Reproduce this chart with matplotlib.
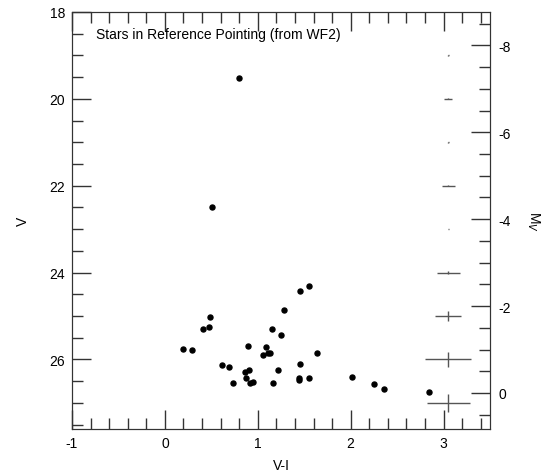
import matplotlib
matplotlib.use('Agg')
import matplotlib.pyplot as plt
from matplotlib.ticker import MultipleLocator

plt.rcParams['font.family'] = ['Liberation Sans', 'DejaVu Sans']
plt.rcParams['axes.unicode_minus'] = False

# star photometry (V-I colour, V magnitude)
vi = [0.19, 0.29, 0.41, 0.47, 0.49, 0.62, 0.69, 0.73, 0.86, 0.91, 0.87, 0.92,
      0.95, 0.90, 1.06, 1.09, 1.11, 1.13, 1.15, 1.16, 1.22, 1.25, 1.28, 1.45,
      1.55, 1.45, 1.44, 1.44, 1.55, 1.64, 2.01, 2.25, 2.36, 2.84, 0.80, 0.51]
vmag = [25.75, 25.79, 25.30, 25.26, 25.02, 26.13, 26.17, 26.55, 26.28, 26.25,
        26.42, 26.54, 26.52, 25.69, 25.90, 25.72, 25.85, 25.86, 25.29, 26.55,
        26.25, 25.43, 24.86, 24.42, 24.31, 26.11, 26.43, 26.47, 26.42, 25.84,
        26.41, 26.57, 26.67, 26.75, 19.52, 22.48]

# typical errors per magnitude
err_v = [19, 20, 21, 22, 23, 24, 25, 26, 27]
err_x = [0.005, 0.042, 0.005, 0.072, 0.005, 0.125, 0.143, 0.25, 0.23]
err_y = [0.005, 0.01, 0.005, 0.01, 0.005, 0.04, 0.115, 0.18, 0.21]
err_col = 3.05

dist_mod = 26.77

fig = plt.figure(figsize=(5.5, 4.77), dpi=100)
ax = fig.add_axes([72/550, 47/477, 418/550, 417/477])

ax.plot(vi, vmag, linestyle='none', marker='o', ms=3.6, color='black', mec='black')
ax.errorbar([err_col]*len(err_v), err_v, xerr=err_x, yerr=err_y, fmt='none',
            ecolor='#555555', elinewidth=1, capsize=0)

ax.set_xlim(-1, 3.5)
ax.set_ylim(27.6, 18)
ax.xaxis.set_major_locator(MultipleLocator(1))
ax.xaxis.set_minor_locator(MultipleLocator(0.2))
ax.yaxis.set_major_locator(MultipleLocator(2))
ax.yaxis.set_minor_locator(MultipleLocator(0.5))
ax.tick_params(which='both', direction='in', top=True, right=False, color='#333333',
               labelsize=10, width=1)
ax.tick_params(which='major', length=14, pad=5)
ax.tick_params(which='minor', length=8)
ax.set_xlabel('V-I', fontsize=10, labelpad=6)
ax.set_ylabel('V', fontsize=10, labelpad=14)
for s in ax.spines.values():
    s.set_color('#333333')

ax2 = ax.twinx()
ax2.set_ylim(27.6 - dist_mod, 18 - dist_mod)
ax2.yaxis.set_major_locator(MultipleLocator(2))
ax2.yaxis.set_minor_locator(MultipleLocator(0.5))
ax2.tick_params(which='both', direction='in', color='#333333', labelsize=10, width=1)
ax2.tick_params(which='major', length=14, pad=6)
ax2.tick_params(which='minor', length=8)
ax2.set_ylabel('M$_V$', fontsize=10, rotation=270, labelpad=22)
for s in ax2.spines.values():
    s.set_color('#333333')

ax.text(0.057, 0.947, 'Stars in Reference Pointing (from WF2)', transform=ax.transAxes,
        fontsize=10, va='center', ha='left')

fig.savefig('out.png', dpi=100)
